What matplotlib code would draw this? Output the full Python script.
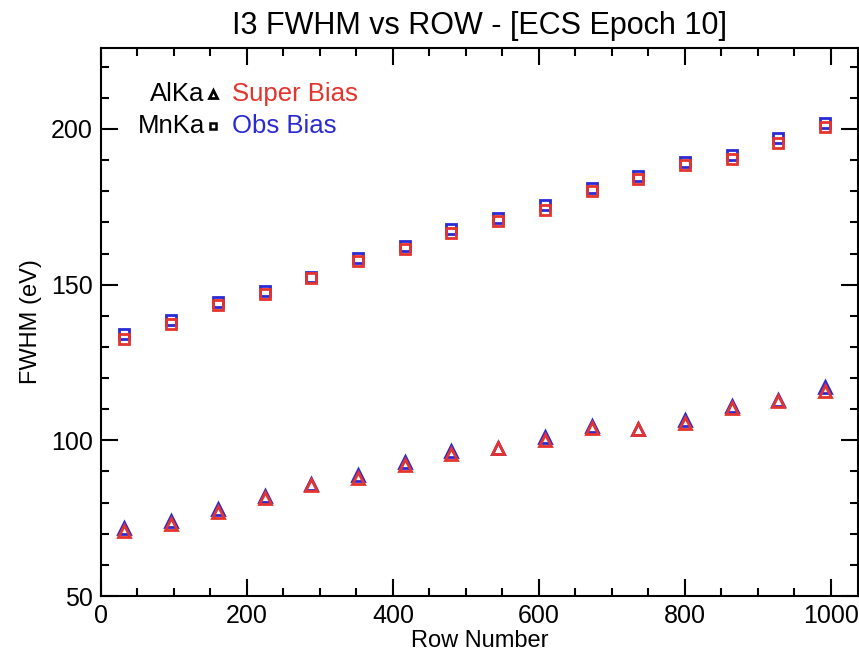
import numpy as np
import matplotlib.pyplot as plt
from matplotlib.ticker import MultipleLocator

plt.rcParams['font.family'] = ['Liberation Sans', 'DejaVu Sans']

# row centres of each bin
rows = [32, 96, 160, 224, 288, 352, 416, 480, 544, 608, 672, 736, 800, 864, 928, 992]

# MnKa FWHM (eV)
mnka_super = [132.5, 137.5, 143.5, 147, 152, 157.5, 161.5, 166.5, 170.5, 174, 180, 184, 188.5, 190.5, 195.5, 200.5]
mnka_obs = [134, 138.5, 144.5, 148, 152.5, 158.5, 162.5, 168, 171.5, 175.5, 181, 185, 189.5, 191.5, 197, 202]

# AlKa FWHM (eV)
alka_super = [71, 73, 77, 81.5, 85.5, 88, 92, 95.5, 97.5, 100, 104, 103.5, 105.5, 110.5, 112.5, 116]
alka_obs = [72, 74, 78, 82, 86, 89, 93, 96.5, 97.5, 101, 104.5, 103.5, 106.5, 111, 113, 117]

red = '#e5332d'
blue = '#2b2bd4'

fig = plt.figure(figsize=(8.59, 6.56), dpi=100)
ax = fig.add_axes([101/859, 60/656, 757/859, 548/656])

# blue first, red on top
ax.plot(rows, mnka_obs, 's', ms=7, mfc='none', mec=blue, mew=2)
ax.plot(rows, alka_obs, '^', ms=8, mfc='none', mec=blue, mew=2)
ax.plot(rows, mnka_super, 's', ms=7, mfc='none', mec=red, mew=2)
ax.plot(rows, alka_super, '^', ms=8, mfc='none', mec=red, mew=2)

ax.set_xlim(0, 1037)
ax.set_ylim(50, 226)
ax.xaxis.set_major_locator(MultipleLocator(200))
ax.xaxis.set_minor_locator(MultipleLocator(50))
ax.yaxis.set_major_locator(MultipleLocator(50))
ax.yaxis.set_minor_locator(MultipleLocator(10))
ax.tick_params(which='both', direction='in', top=True, right=True, width=1.5, labelsize=18, pad=6)
ax.tick_params(which='major', length=12)
ax.tick_params(which='minor', length=6)
for s in ax.spines.values():
    s.set_linewidth(1.5)

ax.set_xlabel('Row Number', fontsize=17, labelpad=1)
ax.set_ylabel('FWHM (eV)', fontsize=17, labelpad=6)
ax.set_title('I3 FWHM vs ROW - [ECS Epoch 10]', fontsize=22, pad=10)

# hand-made key in the upper left
tr = ax.transAxes
ax.text(0.137, 0.916, 'AlKa', ha='right', va='center', fontsize=18.5, transform=tr)
ax.text(0.137, 0.858, 'MnKa', ha='right', va='center', fontsize=18.5, transform=tr)
ax.plot([0.148], [0.916], '^', ms=6, mfc='none', mec='black', mew=2, transform=tr)
ax.plot([0.148], [0.858], 's', ms=5, mfc='none', mec='black', mew=1.8, transform=tr)
ax.text(0.173, 0.916, 'Super Bias', ha='left', va='center', fontsize=18.5, color=red, transform=tr)
ax.text(0.173, 0.858, 'Obs Bias', ha='left', va='center', fontsize=18.5, color=blue, transform=tr)

fig.savefig('out.png', dpi=100)
